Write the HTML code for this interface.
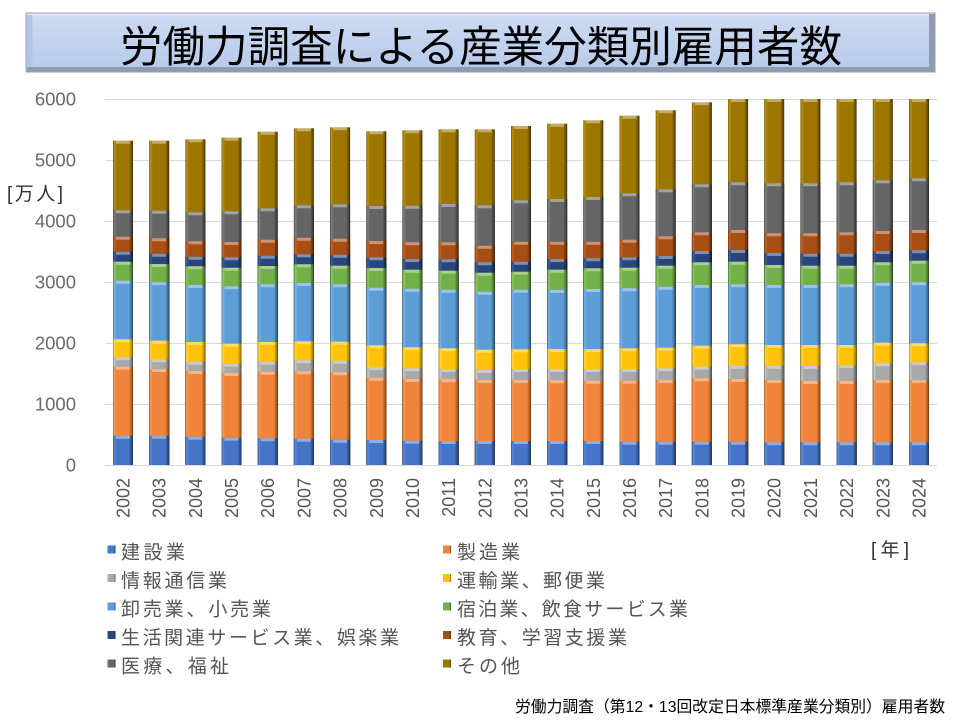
<!DOCTYPE html>
<html><head><meta charset="utf-8">
<style>
html,body{margin:0;padding:0;background:#fff;}
body{width:960px;height:720px;overflow:hidden;}
svg{display:block;}
text{font-family:"Liberation Sans","Noto Sans CJK JP",sans-serif;}
.c0{fill:url(#g0)}.c1{fill:url(#g1)}.c2{fill:url(#g2)}.c3{fill:url(#g3)}.c4{fill:url(#g4)}
.c5{fill:url(#g5)}.c6{fill:url(#g6)}.c7{fill:url(#g7)}.c8{fill:url(#g8)}.c9{fill:url(#g9)}
.yl{font-size:18.5px;fill:#6a6a6a;text-anchor:end;}
.xl{font-size:18px;fill:#555;text-anchor:end;}
.lg{font-size:19px;fill:#555;}
.hl{stroke:#fff;stroke-opacity:.4;stroke-width:3;}
</style></head>
<body>
<svg width="960" height="720" viewBox="0 0 960 720" xmlns="http://www.w3.org/2000/svg">
<defs>
<linearGradient id="tb" x1="0" y1="0" x2="0" y2="1"><stop offset="0" stop-color="#CEDCF3"/><stop offset="1" stop-color="#B6C9E9"/></linearGradient>
<linearGradient id="g0"><stop offset="0" stop-color="#2F5597"/><stop offset=".07" stop-color="#5B8AD8"/><stop offset=".18" stop-color="#4674C6"/><stop offset=".8" stop-color="#4674C6"/><stop offset=".93" stop-color="#2B4E8A"/><stop offset="1" stop-color="#1B3259"/></linearGradient>
<linearGradient id="g1"><stop offset="0" stop-color="#B85E1F"/><stop offset=".07" stop-color="#F89A55"/><stop offset=".18" stop-color="#F0843A"/><stop offset=".8" stop-color="#F0843A"/><stop offset=".93" stop-color="#B45A1E"/><stop offset="1" stop-color="#6E3510"/></linearGradient>
<linearGradient id="g2"><stop offset="0" stop-color="#7C7C7C"/><stop offset=".07" stop-color="#C8C8C8"/><stop offset=".18" stop-color="#A8A8A8"/><stop offset=".8" stop-color="#A8A8A8"/><stop offset=".93" stop-color="#777"/><stop offset="1" stop-color="#444"/></linearGradient>
<linearGradient id="g3"><stop offset="0" stop-color="#BF9000"/><stop offset=".07" stop-color="#FFD640"/><stop offset=".18" stop-color="#FFC20A"/><stop offset=".8" stop-color="#FFC20A"/><stop offset=".93" stop-color="#B88A00"/><stop offset="1" stop-color="#6E5200"/></linearGradient>
<linearGradient id="g4"><stop offset="0" stop-color="#41719C"/><stop offset=".07" stop-color="#7AB4E8"/><stop offset=".18" stop-color="#5D9DD7"/><stop offset=".8" stop-color="#5D9DD7"/><stop offset=".93" stop-color="#3F6E98"/><stop offset="1" stop-color="#243F59"/></linearGradient>
<linearGradient id="g5"><stop offset="0" stop-color="#507E32"/><stop offset=".07" stop-color="#8DC866"/><stop offset=".18" stop-color="#72B049"/><stop offset=".8" stop-color="#72B049"/><stop offset=".93" stop-color="#4E7A31"/><stop offset="1" stop-color="#2D471C"/></linearGradient>
<linearGradient id="g6"><stop offset="0" stop-color="#1A2F55"/><stop offset=".07" stop-color="#3C609C"/><stop offset=".18" stop-color="#28467B"/><stop offset=".8" stop-color="#28467B"/><stop offset=".93" stop-color="#192E52"/><stop offset="1" stop-color="#0D182C"/></linearGradient>
<linearGradient id="g7"><stop offset="0" stop-color="#73340A"/><stop offset=".07" stop-color="#C2652C"/><stop offset=".18" stop-color="#A74E14"/><stop offset=".8" stop-color="#A74E14"/><stop offset=".93" stop-color="#70320A"/><stop offset="1" stop-color="#3F1C05"/></linearGradient>
<linearGradient id="g8"><stop offset="0" stop-color="#444"/><stop offset=".07" stop-color="#808080"/><stop offset=".18" stop-color="#656565"/><stop offset=".8" stop-color="#656565"/><stop offset=".93" stop-color="#444"/><stop offset="1" stop-color="#222"/></linearGradient>
<linearGradient id="g9"><stop offset="0" stop-color="#6E5300"/><stop offset=".07" stop-color="#B99112"/><stop offset=".18" stop-color="#9D7600"/><stop offset=".8" stop-color="#9D7600"/><stop offset=".93" stop-color="#6B5000"/><stop offset="1" stop-color="#3D2E00"/></linearGradient>
</defs>

<rect x="26" y="13" width="909" height="59" fill="url(#tb)" stroke="#95A3B9" stroke-width="1"/>
<rect x="26.5" y="13.5" width="908" height="2" fill="#E2EAF7"/>
<rect x="26.5" y="15" width="6" height="52" fill="#AFC2E0" opacity=".8"/>
<rect x="929" y="14" width="6" height="58" fill="#8D9AAF"/>
<rect x="27" y="67" width="908" height="5" fill="#8E9CB3"/>
<text x="481" y="62" font-size="43" text-anchor="middle" textLength="722" lengthAdjust="spacingAndGlyphs" fill="#000">労働力調査による産業分類別雇用者数</text>

<g stroke="#D9D9D9" stroke-width="1">
<line x1="105" x2="937" y1="99.5" y2="99.5"/>
<line x1="105" x2="937" y1="160.5" y2="160.5"/>
<line x1="105" x2="937" y1="221.5" y2="221.5"/>
<line x1="105" x2="937" y1="282.5" y2="282.5"/>
<line x1="105" x2="937" y1="343.5" y2="343.5"/>
<line x1="105" x2="937" y1="404.5" y2="404.5"/>
<line x1="105" x2="937" y1="465.5" y2="465.5"/>
</g>

<text class="yl" x="76" y="105.5">6000</text>
<text class="yl" x="76" y="166.5">5000</text>
<text class="yl" x="76" y="227.5">4000</text>
<text class="yl" x="76" y="288.5">3000</text>
<text class="yl" x="76" y="349.5">2000</text>
<text class="yl" x="76" y="410.5">1000</text>
<text class="yl" x="76" y="471.5">0</text>
<text x="7" y="200" font-size="19" fill="#333" textLength="56">[万人]</text>

<g>
<g transform="translate(113)">
<rect class="c9" width="20" y="140.7" height="324.3"/><rect class="c8" width="20" y="210.3" height="254.7"/><rect class="c7" width="20" y="236.7" height="228.3"/><rect class="c6" width="20" y="251.7" height="213.3"/><rect class="c5" width="20" y="261.7" height="203.3"/><rect class="c4" width="20" y="280.7" height="184.3"/><rect class="c3" width="20" y="339.3" height="125.7"/><rect class="c2" width="20" y="357.3" height="107.7"/><rect class="c1" width="20" y="366.7" height="98.3"/><rect class="c0" width="20" y="435.7" height="29.3"/>
<path class="hl" d="M3 435.7h14M3 366.7h14M3 357.3h14M3 339.3h14M3 280.7h14M3 261.7h14M3 251.7h14M3 236.7h14M3 210.3h14M3 140.7h14" transform="translate(0,1.5)"/>
</g>
<g transform="translate(149.2)">
<rect class="c9" width="20" y="140.7" height="324.3"/><rect class="c8" width="20" y="210.7" height="254.3"/><rect class="c7" width="20" y="238.3" height="226.7"/><rect class="c6" width="20" y="253.7" height="211.3"/><rect class="c5" width="20" y="264" height="201"/><rect class="c4" width="20" y="282.3" height="182.7"/><rect class="c3" width="20" y="340.7" height="124.3"/><rect class="c2" width="20" y="359.3" height="105.7"/><rect class="c1" width="20" y="369" height="96"/><rect class="c0" width="20" y="435.7" height="29.3"/>
<path class="hl" d="M3 435.7h14M3 369h14M3 359.3h14M3 340.7h14M3 282.3h14M3 264h14M3 253.7h14M3 238.3h14M3 210.7h14M3 140.7h14" transform="translate(0,1.5)"/>
</g>
<g transform="translate(185.4)">
<rect class="c9" width="20" y="139.3" height="325.7"/><rect class="c8" width="20" y="212.3" height="252.7"/><rect class="c7" width="20" y="241.3" height="223.7"/><rect class="c6" width="20" y="256.7" height="208.3"/><rect class="c5" width="20" y="266.3" height="198.7"/><rect class="c4" width="20" y="285" height="180"/><rect class="c3" width="20" y="342" height="123"/><rect class="c2" width="20" y="361.7" height="103.3"/><rect class="c1" width="20" y="371" height="94"/><rect class="c0" width="20" y="436.7" height="28.3"/>
<path class="hl" d="M3 436.7h14M3 371h14M3 361.7h14M3 342h14M3 285h14M3 266.3h14M3 256.7h14M3 241.3h14M3 212.3h14M3 139.3h14" transform="translate(0,1.5)"/>
</g>
<g transform="translate(221.5)">
<rect class="c9" width="20" y="137.7" height="327.3"/><rect class="c8" width="20" y="211.3" height="253.7"/><rect class="c7" width="20" y="242" height="223"/><rect class="c6" width="20" y="257.3" height="207.7"/><rect class="c5" width="20" y="267.7" height="197.3"/><rect class="c4" width="20" y="286.3" height="178.7"/><rect class="c3" width="20" y="343.7" height="121.3"/><rect class="c2" width="20" y="363.7" height="101.3"/><rect class="c1" width="20" y="373" height="92"/><rect class="c0" width="20" y="437.7" height="27.3"/>
<path class="hl" d="M3 437.7h14M3 373h14M3 363.7h14M3 343.7h14M3 286.3h14M3 267.7h14M3 257.3h14M3 242h14M3 211.3h14M3 137.7h14" transform="translate(0,1.5)"/>
</g>
<g transform="translate(257.7)">
<rect class="c9" width="20" y="131.7" height="333.3"/><rect class="c8" width="20" y="208.3" height="256.7"/><rect class="c7" width="20" y="239.7" height="225.3"/><rect class="c6" width="20" y="255.7" height="209.3"/><rect class="c5" width="20" y="266" height="199"/><rect class="c4" width="20" y="284.3" height="180.7"/><rect class="c3" width="20" y="342" height="123"/><rect class="c2" width="20" y="361.7" height="103.3"/><rect class="c1" width="20" y="371.7" height="93.3"/><rect class="c0" width="20" y="438.3" height="26.7"/>
<path class="hl" d="M3 438.3h14M3 371.7h14M3 361.7h14M3 342h14M3 284.3h14M3 266h14M3 255.7h14M3 239.7h14M3 208.3h14M3 131.7h14" transform="translate(0,1.5)"/>
</g>
<g transform="translate(293.9)">
<rect class="c9" width="20" y="128.3" height="336.7"/><rect class="c8" width="20" y="205.3" height="259.7"/><rect class="c7" width="20" y="237.7" height="227.3"/><rect class="c6" width="20" y="254.3" height="210.7"/><rect class="c5" width="20" y="264.3" height="200.7"/><rect class="c4" width="20" y="283" height="182"/><rect class="c3" width="20" y="341.3" height="123.7"/><rect class="c2" width="20" y="360.3" height="104.7"/><rect class="c1" width="20" y="371.3" height="93.7"/><rect class="c0" width="20" y="438.7" height="26.3"/>
<path class="hl" d="M3 438.7h14M3 371.3h14M3 360.3h14M3 341.3h14M3 283h14M3 264.3h14M3 254.3h14M3 237.7h14M3 205.3h14M3 128.3h14" transform="translate(0,1.5)"/>
</g>
<g transform="translate(330.1)">
<rect class="c9" width="20" y="127.3" height="337.7"/><rect class="c8" width="20" y="204.3" height="260.7"/><rect class="c7" width="20" y="238.7" height="226.3"/><rect class="c6" width="20" y="254.7" height="210.3"/><rect class="c5" width="20" y="265.7" height="199.3"/><rect class="c4" width="20" y="284.3" height="180.7"/><rect class="c3" width="20" y="341.7" height="123.3"/><rect class="c2" width="20" y="360.7" height="104.3"/><rect class="c1" width="20" y="372.3" height="92.7"/><rect class="c0" width="20" y="439.7" height="25.3"/>
<path class="hl" d="M3 439.7h14M3 372.3h14M3 360.7h14M3 341.7h14M3 284.3h14M3 265.7h14M3 254.7h14M3 238.7h14M3 204.3h14M3 127.3h14" transform="translate(0,1.5)"/>
</g>
<g transform="translate(366.3)">
<rect class="c9" width="20" y="131.3" height="333.7"/><rect class="c8" width="20" y="206" height="259"/><rect class="c7" width="20" y="241" height="224"/><rect class="c6" width="20" y="257.3" height="207.7"/><rect class="c5" width="20" y="268" height="197"/><rect class="c4" width="20" y="287.7" height="177.3"/><rect class="c3" width="20" y="345.3" height="119.7"/><rect class="c2" width="20" y="367.3" height="97.7"/><rect class="c1" width="20" y="377.7" height="87.3"/><rect class="c0" width="20" y="440" height="25"/>
<path class="hl" d="M3 440h14M3 377.7h14M3 367.3h14M3 345.3h14M3 287.7h14M3 268h14M3 257.3h14M3 241h14M3 206h14M3 131.3h14" transform="translate(0,1.5)"/>
</g>
<g transform="translate(402.4)">
<rect class="c9" width="20" y="130.3" height="334.7"/><rect class="c8" width="20" y="205.7" height="259.3"/><rect class="c7" width="20" y="242.3" height="222.7"/><rect class="c6" width="20" y="259" height="206"/><rect class="c5" width="20" y="269.7" height="195.3"/><rect class="c4" width="20" y="288.7" height="176.3"/><rect class="c3" width="20" y="347.3" height="117.7"/><rect class="c2" width="20" y="368.3" height="96.7"/><rect class="c1" width="20" y="379" height="86"/><rect class="c0" width="20" y="440.7" height="24.3"/>
<path class="hl" d="M3 440.7h14M3 379h14M3 368.3h14M3 347.3h14M3 288.7h14M3 269.7h14M3 259h14M3 242.3h14M3 205.7h14M3 130.3h14" transform="translate(0,1.5)"/>
</g>
<g transform="translate(438.6)">
<rect class="c9" width="20" y="129.3" height="335.7"/><rect class="c8" width="20" y="204" height="261"/><rect class="c7" width="20" y="242.3" height="222.7"/><rect class="c6" width="20" y="259.3" height="205.7"/><rect class="c5" width="20" y="270.7" height="194.3"/><rect class="c4" width="20" y="289.7" height="175.3"/><rect class="c3" width="20" y="348.3" height="116.7"/><rect class="c2" width="20" y="369" height="96"/><rect class="c1" width="20" y="379.3" height="85.7"/><rect class="c0" width="20" y="441" height="24"/>
<path class="hl" d="M3 441h14M3 379.3h14M3 369h14M3 348.3h14M3 289.7h14M3 270.7h14M3 259.3h14M3 242.3h14M3 204h14M3 129.3h14" transform="translate(0,1.5)"/>
</g>
<g transform="translate(474.8)">
<rect class="c9" width="20" y="129.3" height="335.7"/><rect class="c8" width="20" y="205.3" height="259.7"/><rect class="c7" width="20" y="245.7" height="219.3"/><rect class="c6" width="20" y="262.3" height="202.7"/><rect class="c5" width="20" y="272.7" height="192.3"/><rect class="c4" width="20" y="291.7" height="173.3"/><rect class="c3" width="20" y="349.7" height="115.3"/><rect class="c2" width="20" y="370" height="95"/><rect class="c1" width="20" y="380" height="85"/><rect class="c0" width="20" y="441" height="24"/>
<path class="hl" d="M3 441h14M3 380h14M3 370h14M3 349.7h14M3 291.7h14M3 272.7h14M3 262.3h14M3 245.7h14M3 205.3h14M3 129.3h14" transform="translate(0,1.5)"/>
</g>
<g transform="translate(511)">
<rect class="c9" width="20" y="126" height="339"/><rect class="c8" width="20" y="200.3" height="264.7"/><rect class="c7" width="20" y="241.7" height="223.3"/><rect class="c6" width="20" y="261.7" height="203.3"/><rect class="c5" width="20" y="271.7" height="193.3"/><rect class="c4" width="20" y="289.7" height="175.3"/><rect class="c3" width="20" y="349.3" height="115.7"/><rect class="c2" width="20" y="369" height="96"/><rect class="c1" width="20" y="380" height="85"/><rect class="c0" width="20" y="441" height="24"/>
<path class="hl" d="M3 441h14M3 380h14M3 369h14M3 349.3h14M3 289.7h14M3 271.7h14M3 261.7h14M3 241.7h14M3 200.3h14M3 126h14" transform="translate(0,1.5)"/>
</g>
<g transform="translate(547.2)">
<rect class="c9" width="20" y="123.7" height="341.3"/><rect class="c8" width="20" y="199" height="266"/><rect class="c7" width="20" y="241.7" height="223.3"/><rect class="c6" width="20" y="259" height="206"/><rect class="c5" width="20" y="269.7" height="195.3"/><rect class="c4" width="20" y="290" height="175"/><rect class="c3" width="20" y="349" height="116"/><rect class="c2" width="20" y="369" height="96"/><rect class="c1" width="20" y="380.3" height="84.7"/><rect class="c0" width="20" y="441" height="24"/>
<path class="hl" d="M3 441h14M3 380.3h14M3 369h14M3 349h14M3 290h14M3 269.7h14M3 259h14M3 241.7h14M3 199h14M3 123.7h14" transform="translate(0,1.5)"/>
</g>
<g transform="translate(583.3)">
<rect class="c9" width="20" y="120.3" height="344.7"/><rect class="c8" width="20" y="197" height="268"/><rect class="c7" width="20" y="241.7" height="223.3"/><rect class="c6" width="20" y="258.3" height="206.7"/><rect class="c5" width="20" y="268.3" height="196.7"/><rect class="c4" width="20" y="289" height="176"/><rect class="c3" width="20" y="349" height="116"/><rect class="c2" width="20" y="369" height="96"/><rect class="c1" width="20" y="380.7" height="84.3"/><rect class="c0" width="20" y="441" height="24"/>
<path class="hl" d="M3 441h14M3 380.7h14M3 369h14M3 349h14M3 289h14M3 268.3h14M3 258.3h14M3 241.7h14M3 197h14M3 120.3h14" transform="translate(0,1.5)"/>
</g>
<g transform="translate(619.5)">
<rect class="c9" width="20" y="115.7" height="349.3"/><rect class="c8" width="20" y="193.3" height="271.7"/><rect class="c7" width="20" y="239.7" height="225.3"/><rect class="c6" width="20" y="257.3" height="207.7"/><rect class="c5" width="20" y="267.7" height="197.3"/><rect class="c4" width="20" y="288.3" height="176.7"/><rect class="c3" width="20" y="348.3" height="116.7"/><rect class="c2" width="20" y="369" height="96"/><rect class="c1" width="20" y="380.7" height="84.3"/><rect class="c0" width="20" y="441.7" height="23.3"/>
<path class="hl" d="M3 441.7h14M3 380.7h14M3 369h14M3 348.3h14M3 288.3h14M3 267.7h14M3 257.3h14M3 239.7h14M3 193.3h14M3 115.7h14" transform="translate(0,1.5)"/>
</g>
<g transform="translate(655.7)">
<rect class="c9" width="20" y="110.3" height="354.7"/><rect class="c8" width="20" y="189.3" height="275.7"/><rect class="c7" width="20" y="236.3" height="228.7"/><rect class="c6" width="20" y="256" height="209"/><rect class="c5" width="20" y="265.7" height="199.3"/><rect class="c4" width="20" y="286.7" height="178.3"/><rect class="c3" width="20" y="347.7" height="117.3"/><rect class="c2" width="20" y="368.3" height="96.7"/><rect class="c1" width="20" y="380" height="85"/><rect class="c0" width="20" y="441.7" height="23.3"/>
<path class="hl" d="M3 441.7h14M3 380h14M3 368.3h14M3 347.7h14M3 286.7h14M3 265.7h14M3 256h14M3 236.3h14M3 189.3h14M3 110.3h14" transform="translate(0,1.5)"/>
</g>
<g transform="translate(691.9)">
<rect class="c9" width="20" y="102.3" height="362.7"/><rect class="c8" width="20" y="184.3" height="280.7"/><rect class="c7" width="20" y="232.3" height="232.7"/><rect class="c6" width="20" y="251" height="214"/><rect class="c5" width="20" y="262.3" height="202.7"/><rect class="c4" width="20" y="285" height="180"/><rect class="c3" width="20" y="345.7" height="119.3"/><rect class="c2" width="20" y="366.7" height="98.3"/><rect class="c1" width="20" y="378.3" height="86.7"/><rect class="c0" width="20" y="441.7" height="23.3"/>
<path class="hl" d="M3 441.7h14M3 378.3h14M3 366.7h14M3 345.7h14M3 285h14M3 262.3h14M3 251h14M3 232.3h14M3 184.3h14M3 102.3h14" transform="translate(0,1.5)"/>
</g>
<g transform="translate(728.1)">
<rect class="c9" width="20" y="99" height="366"/><rect class="c8" width="20" y="182.3" height="282.7"/><rect class="c7" width="20" y="230" height="235"/><rect class="c6" width="20" y="250" height="215"/><rect class="c5" width="20" y="261.7" height="203.3"/><rect class="c4" width="20" y="284.3" height="180.7"/><rect class="c3" width="20" y="344.3" height="120.7"/><rect class="c2" width="20" y="365.7" height="99.3"/><rect class="c1" width="20" y="379" height="86"/><rect class="c0" width="20" y="441.7" height="23.3"/>
<path class="hl" d="M3 441.7h14M3 379h14M3 365.7h14M3 344.3h14M3 284.3h14M3 261.7h14M3 250h14M3 230h14M3 182.3h14M3 99h14" transform="translate(0,1.5)"/>
</g>
<g transform="translate(764.2)">
<rect class="c9" width="20" y="99" height="366"/><rect class="c8" width="20" y="183.3" height="281.7"/><rect class="c7" width="20" y="233.3" height="231.7"/><rect class="c6" width="20" y="253" height="212"/><rect class="c5" width="20" y="265" height="200"/><rect class="c4" width="20" y="285" height="180"/><rect class="c3" width="20" y="345" height="120"/><rect class="c2" width="20" y="365.7" height="99.3"/><rect class="c1" width="20" y="380" height="85"/><rect class="c0" width="20" y="442.3" height="22.7"/>
<path class="hl" d="M3 442.3h14M3 380h14M3 365.7h14M3 345h14M3 285h14M3 265h14M3 253h14M3 233.3h14M3 183.3h14M3 99h14" transform="translate(0,1.5)"/>
</g>
<g transform="translate(800.4)">
<rect class="c9" width="20" y="99" height="366"/><rect class="c8" width="20" y="183.3" height="281.7"/><rect class="c7" width="20" y="233.3" height="231.7"/><rect class="c6" width="20" y="253.7" height="211.3"/><rect class="c5" width="20" y="265.7" height="199.3"/><rect class="c4" width="20" y="285" height="180"/><rect class="c3" width="20" y="345" height="120"/><rect class="c2" width="20" y="366" height="99"/><rect class="c1" width="20" y="381" height="84"/><rect class="c0" width="20" y="442.3" height="22.7"/>
<path class="hl" d="M3 442.3h14M3 381h14M3 366h14M3 345h14M3 285h14M3 265.7h14M3 253.7h14M3 233.3h14M3 183.3h14M3 99h14" transform="translate(0,1.5)"/>
</g>
<g transform="translate(836.6)">
<rect class="c9" width="20" y="99" height="366"/><rect class="c8" width="20" y="182.3" height="282.7"/><rect class="c7" width="20" y="232.3" height="232.7"/><rect class="c6" width="20" y="253.7" height="211.3"/><rect class="c5" width="20" y="265.7" height="199.3"/><rect class="c4" width="20" y="284.3" height="180.7"/><rect class="c3" width="20" y="345" height="120"/><rect class="c2" width="20" y="365" height="100"/><rect class="c1" width="20" y="381" height="84"/><rect class="c0" width="20" y="442.3" height="22.7"/>
<path class="hl" d="M3 442.3h14M3 381h14M3 365h14M3 345h14M3 284.3h14M3 265.7h14M3 253.7h14M3 232.3h14M3 182.3h14M3 99h14" transform="translate(0,1.5)"/>
</g>
<g transform="translate(872.8)">
<rect class="c9" width="20" y="99" height="366"/><rect class="c8" width="20" y="180.3" height="284.7"/><rect class="c7" width="20" y="231" height="234"/><rect class="c6" width="20" y="251" height="214"/><rect class="c5" width="20" y="262.3" height="202.7"/><rect class="c4" width="20" y="282.7" height="182.3"/><rect class="c3" width="20" y="342.7" height="122.3"/><rect class="c2" width="20" y="363.3" height="101.7"/><rect class="c1" width="20" y="380" height="85"/><rect class="c0" width="20" y="442.3" height="22.7"/>
<path class="hl" d="M3 442.3h14M3 380h14M3 363.3h14M3 342.7h14M3 282.7h14M3 262.3h14M3 251h14M3 231h14M3 180.3h14M3 99h14" transform="translate(0,1.5)"/>
</g>
<g transform="translate(909)">
<rect class="c9" width="20" y="99" height="366"/><rect class="c8" width="20" y="178.3" height="286.7"/><rect class="c7" width="20" y="230" height="235"/><rect class="c6" width="20" y="250.3" height="214.7"/><rect class="c5" width="20" y="260.7" height="204.3"/><rect class="c4" width="20" y="282.3" height="182.7"/><rect class="c3" width="20" y="343.3" height="121.7"/><rect class="c2" width="20" y="362.3" height="102.7"/><rect class="c1" width="20" y="380" height="85"/><rect class="c0" width="20" y="442.3" height="22.7"/>
<path class="hl" d="M3 442.3h14M3 380h14M3 362.3h14M3 343.3h14M3 282.3h14M3 260.7h14M3 250.3h14M3 230h14M3 178.3h14M3 99h14" transform="translate(0,1.5)"/>
</g>
</g>

<text class="xl" transform="translate(129.5,478) rotate(-90)">2002</text>
<text class="xl" transform="translate(165.7,478) rotate(-90)">2003</text>
<text class="xl" transform="translate(201.9,478) rotate(-90)">2004</text>
<text class="xl" transform="translate(238,478) rotate(-90)">2005</text>
<text class="xl" transform="translate(274.2,478) rotate(-90)">2006</text>
<text class="xl" transform="translate(310.4,478) rotate(-90)">2007</text>
<text class="xl" transform="translate(346.6,478) rotate(-90)">2008</text>
<text class="xl" transform="translate(382.8,478) rotate(-90)">2009</text>
<text class="xl" transform="translate(418.9,478) rotate(-90)">2010</text>
<text class="xl" transform="translate(455.1,478) rotate(-90)">2011</text>
<text class="xl" transform="translate(491.3,478) rotate(-90)">2012</text>
<text class="xl" transform="translate(527.5,478) rotate(-90)">2013</text>
<text class="xl" transform="translate(563.7,478) rotate(-90)">2014</text>
<text class="xl" transform="translate(599.8,478) rotate(-90)">2015</text>
<text class="xl" transform="translate(636,478) rotate(-90)">2016</text>
<text class="xl" transform="translate(672.2,478) rotate(-90)">2017</text>
<text class="xl" transform="translate(708.4,478) rotate(-90)">2018</text>
<text class="xl" transform="translate(744.6,478) rotate(-90)">2019</text>
<text class="xl" transform="translate(780.7,478) rotate(-90)">2020</text>
<text class="xl" transform="translate(816.9,478) rotate(-90)">2021</text>
<text class="xl" transform="translate(853.1,478) rotate(-90)">2022</text>
<text class="xl" transform="translate(889.3,478) rotate(-90)">2023</text>
<text class="xl" transform="translate(925.5,478) rotate(-90)">2024</text>

<rect class="c0" x="107.5" y="545.5" width="8" height="8"/>
<text class="lg" x="121" y="558.5" textLength="64">建設業</text>
<rect class="c2" x="107.5" y="574" width="8" height="8"/>
<text class="lg" x="121" y="587" textLength="106">情報通信業</text>
<rect class="c4" x="107.5" y="602.5" width="8" height="8"/>
<text class="lg" x="121" y="615.5" textLength="150">卸売業、小売業</text>
<rect class="c6" x="107.5" y="631" width="8" height="8"/>
<text class="lg" x="121" y="644" textLength="278">生活関連サービス業、娯楽業</text>
<rect class="c8" x="107.5" y="659.5" width="8" height="8"/>
<text class="lg" x="121" y="672.5" textLength="108">医療、福祉</text>

<rect class="c1" x="443" y="545.5" width="8" height="8"/>
<text class="lg" x="457" y="558.5" textLength="63">製造業</text>
<rect class="c3" x="443" y="574" width="8" height="8"/>
<text class="lg" x="457" y="587" textLength="148">運輸業、郵便業</text>
<rect class="c5" x="443" y="602.5" width="8" height="8"/>
<text class="lg" x="457" y="615.5" textLength="231">宿泊業、飲食サービス業</text>
<rect class="c7" x="443" y="631" width="8" height="8"/>
<text class="lg" x="457" y="644" textLength="170">教育、学習支援業</text>
<rect class="c9" x="443" y="659.5" width="8" height="8"/>
<text class="lg" x="457" y="672.5" textLength="63">その他</text>

<text x="871" y="556" font-size="19" fill="#333" textLength="38">[年]</text>

<text x="515" y="712" font-size="16" fill="#000" textLength="430" lengthAdjust="spacingAndGlyphs">労働力調査（第12・13回改定日本標準産業分類別）雇用者数</text>
</svg>
</body></html>
